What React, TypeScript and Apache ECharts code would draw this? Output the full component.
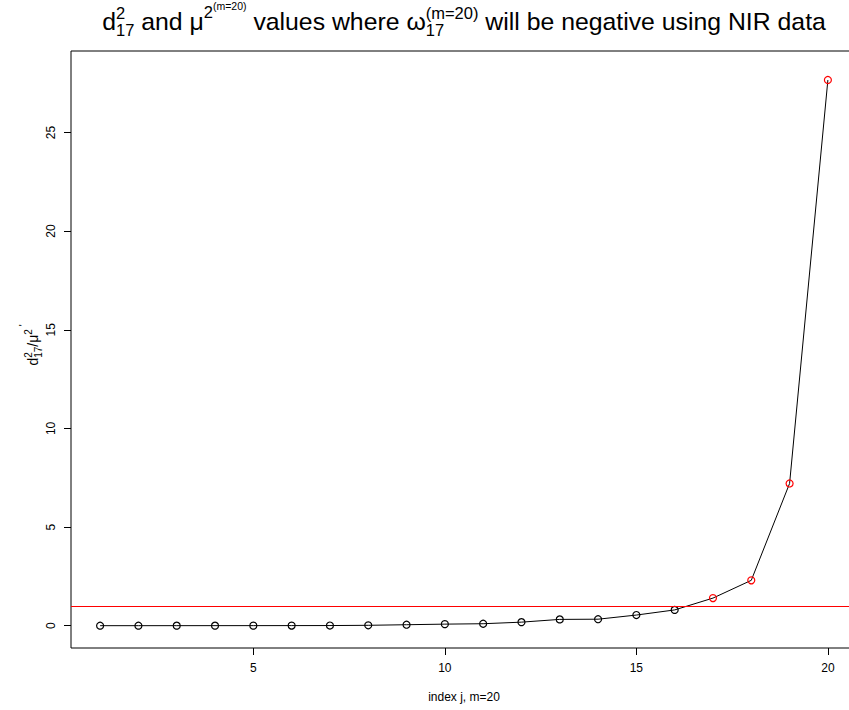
import React, { useEffect, useRef } from "react";
import * as echarts from "echarts";

const indices = [1, 2, 3, 4, 5, 6, 7, 8, 9, 10, 11, 12, 13, 14, 15, 16, 17, 18, 19, 20];
const ratioValues = [0.001, 0.001, 0.002, 0.003, 0.004, 0.005, 0.008, 0.02, 0.05, 0.08, 0.1, 0.18, 0.32, 0.33, 0.54, 0.8, 1.4, 2.3, 7.21, 27.66];
const thresholdValue = 1;
const xTicks = [5, 10, 15, 20];
const yTicks = [0, 5, 10, 15, 20, 25];
const xRange = [0.24, 20.76];
const yRange = [-1.13, 29.13];

const FONT = '"Liberation Sans", Arial, Helvetica, sans-serif';

let measureCtx: CanvasRenderingContext2D | null = null;
function textWidth(t: string, size: number) {
  if (!measureCtx) measureCtx = document.createElement("canvas").getContext("2d");
  measureCtx!.font = `${size}px "Liberation Sans"`;
  return measureCtx!.measureText(t).width;
}

type Tok = { t: string; size: number; dy: number };
type Piece = Tok[];

function buildLine(pieces: Piece[], centerX: number, baseline: number, opts: { rotate?: boolean } = {}) {
  const widths = pieces.map((p) => Math.max(...p.map((k) => textWidth(k.t, k.size))));
  const total = widths.reduce((a, b) => a + b, 0);
  let x = -total / 2;
  const children: any[] = [];
  pieces.forEach((p, i) => {
    p.forEach((k) => {
      children.push({
        type: "text",
        x: x,
        y: k.dy - 0.3465 * k.size,
        style: {
          text: k.t,
          fontSize: k.size,
          fontFamily: FONT,
          fill: "#000",
          align: "left",
          verticalAlign: "middle",
        },
      });
    });
    x += widths[i];
  });
  return {
    type: "group",
    x: centerX,
    y: baseline,
    rotation: opts.rotate ? Math.PI / 2 : 0,
    children,
  };
}

const CHART_W = 860;

export default function App() {
  const ref = useRef<HTMLDivElement>(null);
  useEffect(() => {
    if (!ref.current) return;
    const chart = echarts.init(ref.current, null, { renderer: "svg" });

    const M = 24.8;
    const S = 16.5;
    const SS = 10.5;
    const titlePieces: Piece[] = [
      [{ t: "d", size: M, dy: 0 }],
      [
        { t: "2", size: S, dy: -11.5 },
        { t: "17", size: S, dy: 5.5 },
      ],
      [{ t: " and ", size: M, dy: 0 }],
      [{ t: "\u03bc", size: M, dy: 0 }],
      [{ t: "2", size: S, dy: -12 }],
      [{ t: "(m=20)", size: SS, dy: -20 }],
      [{ t: " values where ", size: M, dy: 0 }],
      [{ t: "\u03c9", size: M, dy: 0 }],
      [
        { t: "(m=20)", size: S, dy: -11.5 },
        { t: "17", size: S, dy: 5.5 },
      ],
      [{ t: " will be negative using NIR data", size: M, dy: 0 }],
    ];

    const m = 14;
    const s = 10;
    const yLabelPieces: Piece[] = [
      [{ t: "d", size: m, dy: 0 }],
      [
        { t: "2", size: s, dy: -6 },
        { t: "17", size: s, dy: 4 },
      ],
      [{ t: "/\u03bc", size: m, dy: 0 }],
      [{ t: "2", size: s, dy: -6 }],
      [{ t: " '", size: s, dy: -11 }],
    ];

    const title = buildLine(titlePieces, 464, 30);
    const yLabel = buildLine(yLabelPieces, 38, 345, { rotate: true });

    chart.setOption({
      animation: false,
      backgroundColor: "#fff",
      grid: {
        left: 71,
        top: 51,
        right: CHART_W - 857,
        bottom: 62,
        show: true,
        borderColor: "#000",
        borderWidth: 1,
        backgroundColor: "transparent",
      },
      graphic: [title, yLabel],
      xAxis: {
        type: "value",
        min: xRange[0],
        max: xRange[1],
        name: "index j, m=20",
        nameLocation: "middle",
        nameGap: 43,
        nameTextStyle: { fontFamily: FONT, fontSize: 12, color: "#000" },
        axisLine: { show: false, onZero: false },
        splitLine: { show: false },
        axisTick: { show: true, inside: false, length: 7, customValues: xTicks, lineStyle: { color: "#000" } },
        axisLabel: { customValues: xTicks, margin: 14, fontFamily: FONT, fontSize: 12, color: "#000" },
      },
      yAxis: {
        type: "value",
        min: yRange[0],
        max: yRange[1],
        axisLine: { show: false, onZero: false },
        splitLine: { show: false },
        axisTick: { show: true, inside: false, length: 7, customValues: yTicks, lineStyle: { color: "#000" } },
        axisLabel: { customValues: yTicks, margin: 14, rotate: 90, fontFamily: FONT, fontSize: 12, color: "#000" },
      },
      series: [
        {
          type: "line",
          data: indices.map((j, i) => ({
            value: [j, ratioValues[i]],
            itemStyle: {
              color: "rgba(255,255,255,0)",
              borderColor: ratioValues[i] > thresholdValue ? "#ff0000" : "#000",
              borderWidth: 1.2,
            },
          })),
          symbol: "circle",
          symbolSize: 7,
          showAllSymbol: true,
          lineStyle: { color: "#000", width: 1 },
          itemStyle: { color: "rgba(255,255,255,0)", borderColor: "#000", borderWidth: 1.2 },
          markLine: {
            silent: true,
            symbol: "none",
            label: { show: false },
            lineStyle: { color: "#ff0000", width: 1, type: "solid" },
            data: [{ yAxis: thresholdValue }],
          },
          z: 3,
        },
      ],
    });
    return () => chart.dispose();
  }, []);
  return (
    <div style={{ position: "fixed", left: 0, top: 0, width: 849, height: 710, overflow: "hidden", background: "#fff" }}>
      <div ref={ref} style={{ width: CHART_W, height: 710 }} />
    </div>
  );
}
